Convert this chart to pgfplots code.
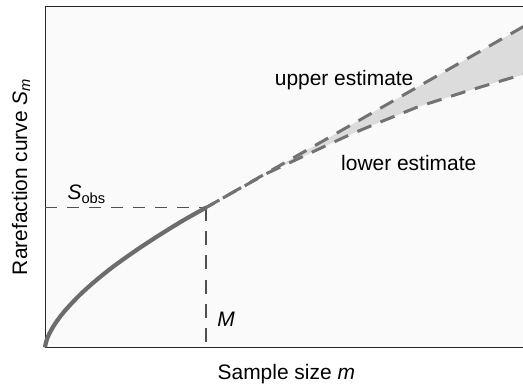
\documentclass[border=0pt]{standalone}
\usepackage{pgfplots}
\pgfplotsset{compat=1.18}
\usepackage{fontspec}
\setmainfont{Liberation Sans}
\definecolor{curvegray}{HTML}{6C6C6C}
\definecolor{dashgray}{HTML}{727272}
\definecolor{refgray}{HTML}{505050}
\definecolor{bandgray}{HTML}{DCDCDC}
\definecolor{bggray}{HTML}{FAFAFA}
\begin{document}
\fontsize{21}{25}\selectfont
\begin{tikzpicture}
\begin{axis}[
  at={(0,0)}, anchor=origin,
  scale only axis,
  width=478bp, height=341bp,
  xmin=0, xmax=10, ymin=0, ymax=10,
  xtick=\empty, ytick=\empty,
  axis line style={draw=black!85, line width=1pt},
  axis background/.style={fill=bggray},
  clip=false,
  xlabel={Sample size \textit{m}},
  ylabel={Rarefaction curve \textit{S}\textsubscript{\textit{m}}},
  xlabel style={at={(axis description cs:0.5,0)}, anchor=base, yshift=-32bp, xshift=2bp},
  ylabel style={at={(axis description cs:0,0.5)}, anchor=base, yshift=18bp},
]
% band between estimates
\addplot[fill=bandgray, draw=none] coordinates {
 (3.37,4.10) (4.0,4.60) (4.67,5.14) (5.25,5.60) (5.75,6.00) (6.4,6.52) (6.95,6.96) (7.78,7.62) (8.8,8.44) (9.73,9.18) (10,9.40)
 (10,7.99) (9.73,7.89) (8.8,7.50) (7.78,7.04) (6.95,6.57) (6.4,6.25) (5.75,5.83) (5.25,5.50) (4.67,5.12) (4.0,4.60) (3.37,4.10)
};
% reference dashed lines
\addplot[refgray, line width=1.8pt, dash pattern=on 12bp off 10bp] coordinates {(0,4.10) (3.37,4.10)};
\addplot[refgray, line width=1.8pt, dash pattern=on 14bp off 10bp] coordinates {(3.37,4.10) (3.37,0)};
% upper estimate
\addplot[dashgray, line width=3pt, dash pattern=on 15bp off 10bp] coordinates {
 (3.37,4.10) (4.67,5.14) (5.75,6.00) (6.95,6.96) (8.8,8.44) (10,9.40)
};
% lower estimate
\addplot[dashgray, line width=3pt, dash pattern=on 15bp off 10bp, dash phase=6bp] coordinates {
 (3.37,4.10) (4.0,4.60) (4.67,5.12) (5.25,5.50) (5.75,5.83) (6.4,6.25) (6.95,6.57) (7.78,7.04) (8.8,7.50) (9.73,7.89) (10,7.99)
};
% rarefaction curve
\addplot[curvegray, line width=4.2pt, smooth] coordinates {
 (0,0) (0.02,0.154) (0.08,0.374) (0.2,0.673) (0.4,1.049) (0.7,1.50) (1.0,1.885) (1.4,2.34) (1.9,2.84) (2.4,3.30) (2.9,3.73) (3.37,4.10)
};
\node[anchor=base west] at (axis cs:0.32,4.33) {\textit{S}\textsubscript{obs}};
\node[anchor=base west] at (axis cs:3.45,0.60) {\textit{M}};
\node[anchor=base] at (axis cs:6.25,7.68) {upper estimate};
\node[anchor=base] at (axis cs:7.6,5.18) {lower estimate};
\end{axis}
\pgfresetboundingbox
\path (-45bp,-39bp) rectangle (477.4bp,347bp);
\end{tikzpicture}
\end{document}
